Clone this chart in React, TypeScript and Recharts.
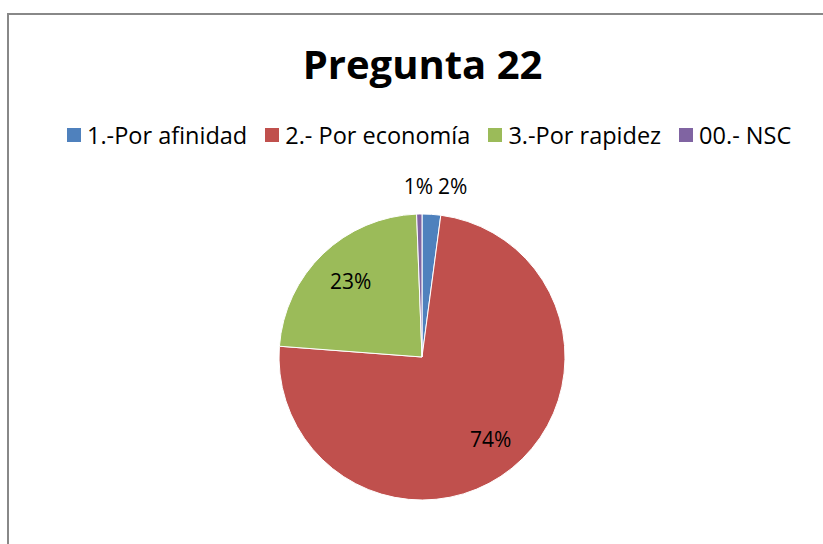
import { PieChart, Pie, Cell } from 'recharts';

const categories = ['1.-Por afinidad', '2.- Por economía', '3.-Por rapidez', '00.- NSC'];
const shares = [2.1, 74.1, 23.2, 0.6];
const labels = ['2%', '74%', '23%', '1%'];
const colors = ['#4F81BD', '#C0504D', '#9BBB59', '#8064A2'];

const data = categories.map((name, i) => ({ name, value: shares[i], label: labels[i] }));

const FONT = '"Open Sans", "Noto Sans", sans-serif';
const RAD = Math.PI / 180;

const renderLabel = (props: any) => {
  const { cx, cy, midAngle, outerRadius, index } = props;
  const share = shares[index];
  if (share < 5) {
    // small slices: label sits above the pie, side by side
    const y = cy - outerRadius - 28;
    const right = Math.cos(-midAngle * RAD) > 0;
    return (
      <text
        x={right ? cx + 16 : cx + 11}
        y={y}
        textAnchor={right ? 'start' : 'end'}
        dominantBaseline="central"
        fill="#000"
        fontSize={21}
        fontFamily={FONT}
      >
        {labels[index]}
      </text>
    );
  }
  const r = outerRadius * 0.74;
  const x = cx + r * Math.cos(-midAngle * RAD);
  const y = cy + r * Math.sin(-midAngle * RAD);
  return (
    <text x={x + 2} y={y} textAnchor="middle" dominantBaseline="central" fill="#000" fontSize={21} fontFamily={FONT}>
      {labels[index]}
    </text>
  );
};

export default function App() {
  return (
    <div style={{ position: 'absolute', left: 0, top: 0, width: 823, height: 544, overflow: 'hidden', background: '#fff' }}>
      <div
        style={{
          position: 'absolute',
          left: 7,
          top: 13,
          width: 840,
          height: 560,
          borderLeft: '2px solid #888',
          borderTop: '2px solid #888',
        }}
      />
      <div
        style={{
          position: 'absolute',
          left: 0,
          top: 36,
          width: 845,
          textAlign: 'center',
          fontFamily: FONT,
          fontWeight: 700,
          fontSize: 40,
          color: '#000',
        }}
      >
        Pregunta 22
      </div>
      <div style={{ position: 'absolute', left: 0, top: 0 }}>
        <PieChart width={823} height={544} margin={{ top: 0, right: 0, bottom: 0, left: 0 }}>
          <Pie
            data={data}
            dataKey="value"
            nameKey="name"
            cx={422}
            cy={357}
            outerRadius={143}
            startAngle={90}
            endAngle={-270}
            stroke="#fff"
            strokeWidth={1}
            label={renderLabel}
            labelLine={false}
            isAnimationActive={false}
          >
            {data.map((d, i) => (
              <Cell key={d.name} fill={colors[i]} />
            ))}
          </Pie>
        </PieChart>
      </div>
      <div
        style={{
          position: 'absolute',
          top: 119,
          left: 67,
          display: 'flex',
          alignItems: 'center',
          gap: 18,
          fontFamily: FONT,
          fontSize: 23.5,
          color: '#000',
          whiteSpace: 'nowrap',
        }}
      >
        {categories.map((c, i) => (
          <div key={c} style={{ display: 'flex', alignItems: 'center' }}>
            <span style={{ display: 'inline-block', width: 14, height: 14, background: colors[i], marginRight: 6 }} />
            <span>{c}</span>
          </div>
        ))}
      </div>
    </div>
  );
}
